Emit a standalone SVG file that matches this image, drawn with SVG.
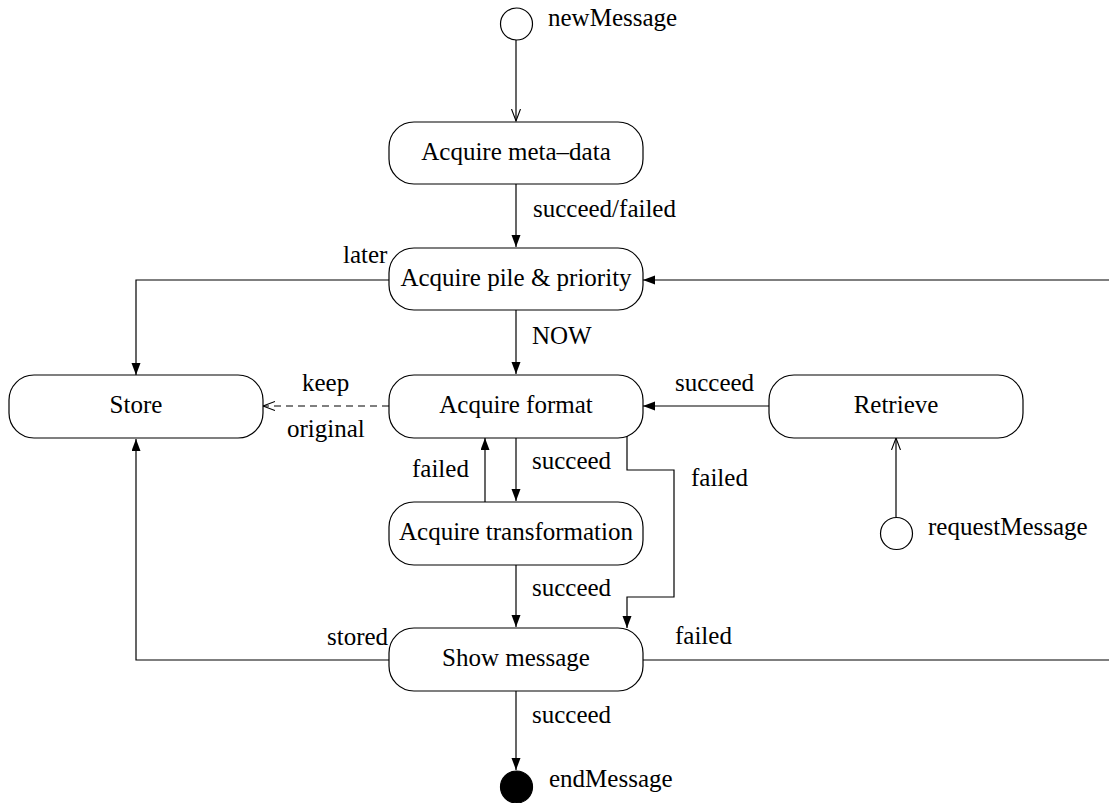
<svg xmlns="http://www.w3.org/2000/svg" width="1109" height="803" viewBox="0 0 1109 803">
  <style>
    text { font-family: "Liberation Serif", "Times New Roman", serif; font-size: 25px; fill: #000; }
    .mid { text-anchor: middle; }
    .state { fill: #fff; stroke: #000; stroke-width: 1.2; }
    .pseudo { fill: #fff; stroke: #000; stroke-width: 1.2; }
    .final { fill: #000; stroke: #000; stroke-width: 1.2; }
    .edge { fill: none; stroke: #000; stroke-width: 1.2; }
    .dashed { stroke-dasharray: 7 5; }
  </style>
  <defs>
    <marker id="solid" markerUnits="userSpaceOnUse" markerWidth="13" markerHeight="10" refX="12" refY="4.5" orient="auto">
      <path d="M0,0 L12,4.5 L0,9 z" fill="#000"/>
    </marker>
    <marker id="open" markerUnits="userSpaceOnUse" markerWidth="14" markerHeight="12" refX="12" refY="5" orient="auto">
      <path d="M0,0.5 L12,5 L0,9.5" fill="none" stroke="#000" stroke-width="1.1"/>
    </marker>
  </defs>

  <!-- transitions -->
  <g id="connectors">
    <path class="edge" d="M516,40 V121" marker-end="url(#open)"/>
    <path class="edge" d="M516,184 V247" marker-end="url(#solid)"/>
    <path class="edge" d="M389,280 H136 V375" marker-end="url(#solid)"/>
    <path class="edge" d="M1109,280 H643" marker-end="url(#solid)"/>
    <path class="edge" d="M516,310 V374" marker-end="url(#solid)"/>
    <path class="edge dashed" d="M389,406 H263" marker-end="url(#open)"/>
    <path class="edge" d="M769,406 H643" marker-end="url(#solid)"/>
    <path class="edge" d="M896,517 V438" marker-end="url(#open)"/>
    <path class="edge" d="M516,438 V501" marker-end="url(#solid)"/>
    <path class="edge" d="M485,502 V438" marker-end="url(#solid)"/>
    <path class="edge" d="M627,436 V470 H674 V597 H627 V628" marker-end="url(#solid)"/>
    <path class="edge" d="M516,565 V627" marker-end="url(#solid)"/>
    <path class="edge" d="M389,660 H136 V439" marker-end="url(#solid)"/>
    <path class="edge" d="M643,660 H1109"/>
    <path class="edge" d="M516,691 V770" marker-end="url(#solid)"/>
  </g>

  <!-- transition labels -->
  <g id="labels">
    <text x="533" y="217">succeed/failed</text>
    <text x="343" y="263">later</text>
    <text x="532" y="344">NOW</text>
    <text x="302" y="391">keep</text>
    <text x="287" y="437">original</text>
    <text x="675" y="391">succeed</text>
    <text x="412" y="477">failed</text>
    <text x="532" y="469">succeed</text>
    <text x="691" y="486">failed</text>
    <text x="532" y="596">succeed</text>
    <text x="327" y="645">stored</text>
    <text x="675" y="644">failed</text>
    <text x="532" y="723">succeed</text>
  </g>

  <g id="newMessage">
    <circle class="pseudo" cx="516.5" cy="24" r="16"/>
    <text x="548" y="26">newMessage</text>
  </g>

  <g id="acquireMetaData">
    <rect class="state" x="389" y="122" width="254" height="62" rx="25" ry="25"/>
    <text class="mid" x="516" y="160">Acquire meta–data</text>
  </g>

  <g id="acquirePilePriority">
    <rect class="state" x="389" y="248" width="254" height="62" rx="25" ry="25"/>
    <text class="mid" x="516" y="286">Acquire pile &amp; priority</text>
  </g>

  <g id="store">
    <rect class="state" x="9" y="375" width="254" height="63" rx="25" ry="25"/>
    <text class="mid" x="136" y="413">Store</text>
  </g>

  <g id="acquireFormat">
    <rect class="state" x="389" y="375" width="254" height="63" rx="25" ry="25"/>
    <text class="mid" x="516" y="413">Acquire format</text>
  </g>

  <g id="retrieve">
    <rect class="state" x="769" y="375" width="254" height="63" rx="25" ry="25"/>
    <text class="mid" x="896" y="413">Retrieve</text>
  </g>

  <g id="requestMessage">
    <circle class="pseudo" cx="896.5" cy="533.5" r="16"/>
    <text x="928" y="535">requestMessage</text>
  </g>

  <g id="acquireTransformation">
    <rect class="state" x="389" y="502" width="254" height="63" rx="25" ry="25"/>
    <text class="mid" x="516" y="540">Acquire transformation</text>
  </g>

  <g id="showMessage">
    <rect class="state" x="389" y="628" width="254" height="63" rx="25" ry="25"/>
    <text class="mid" x="516" y="666">Show message</text>
  </g>

  <g id="endMessage">
    <circle class="final" cx="516.5" cy="787" r="16"/>
    <text x="549" y="787">endMessage</text>
  </g>
</svg>
